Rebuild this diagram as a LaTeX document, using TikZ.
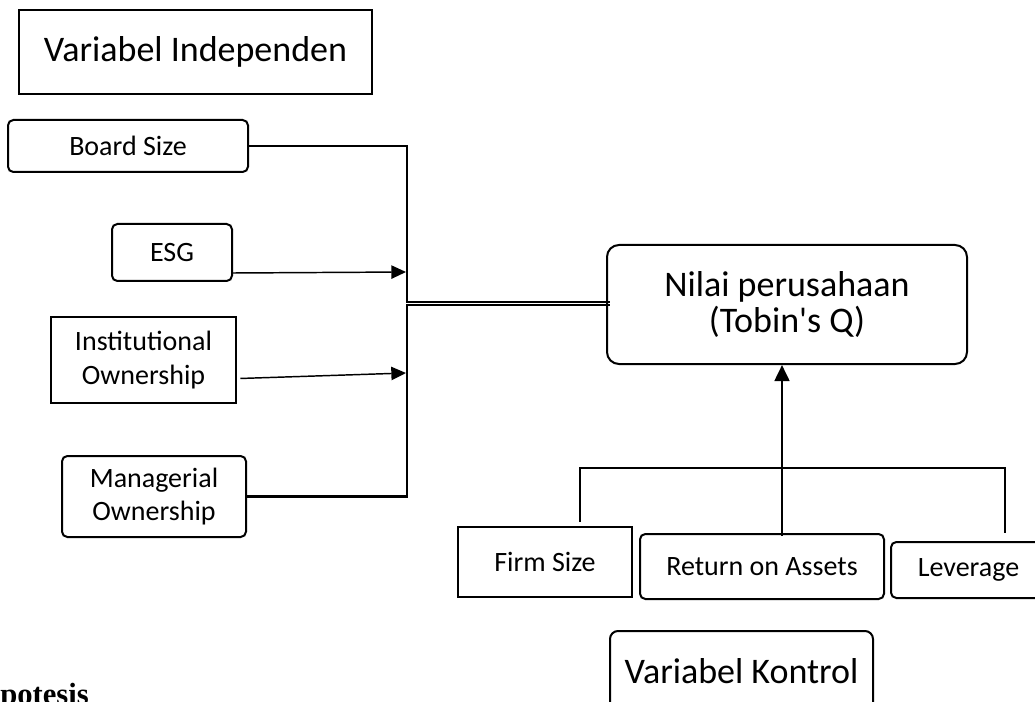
\documentclass[tikz,border=0pt]{standalone}
\usepackage{fontspec}
\setmainfont{Carlito}
\newfontfamily\hipfont{Liberation Serif}
\usetikzlibrary{arrows.meta,calc}

\begin{document}
\begin{tikzpicture}[x=0.75pt,y=-0.75pt,
    box/.style={draw,line width=1.5pt,rounded corners=4pt,inner sep=0pt,align=center,font=\fontsize{21}{25}\selectfont},
    sbox/.style={box,sharp corners,line width=2.2pt},
    bigbox/.style={box,font=\fontsize{27}{26.5}\selectfont},
    link/.style={line width=1.1pt},
    tip/.style={-{Triangle[length=11pt,width=10pt]}}]
    \useasboundingbox (0,0) rectangle (1035,702);
    \clip (0,0) rectangle (1035,702);

    % variabel independen
    \node[sbox,font=\fontsize{27}{30}\selectfont,minimum width=264.75pt,minimum height=63pt] (indep) at (195.5,52) {Variabel Independen};
    \node[box,minimum width=180pt,minimum height=39pt] (board) at (128,146) {Board Size};
    \node[box,minimum width=90pt,minimum height=42.75pt] (esg) at (172,252.5) {ESG};
    \node[sbox,minimum width=138.75pt,minimum height=64.5pt] (inst) at (143.5,360) {Institutional\\Ownership};
    \node[box,minimum width=138pt,minimum height=60.75pt] (mgr) at (154,496.5) {Managerial\\Ownership};

    % variabel dependen
    \node[bigbox,rounded corners=9pt,minimum width=270pt,minimum height=89.25pt] (nilai) at (787,304.5) {Nilai perusahaan\\(Tobin\textquotesingle s Q)};

    % variabel kontrol
    \node[sbox,minimum width=130.5pt,minimum height=52.5pt] (firm) at (545,562) {Firm Size};
    \node[box,minimum width=183pt,minimum height=48.75pt] (roa) at (762,566.5) {Return on Assets};
    \node[box,minimum width=116.25pt,minimum height=42pt] (lev) at (968.5,570) {Leverage};
    \node[bigbox,rounded corners=6pt,minimum width=197.25pt,minimum height=60pt] (kontrol) at (741.5,671) {Variabel Kontrol};

    \node[font=\hipfont\bfseries\fontsize{23}{23}\selectfont,anchor=base west,inner sep=0pt] (hip) at (0,704) {potesis};

    % garis
    \coordinate (vx1) at (407,302);
    \coordinate (vx2) at (407,305);
    \coordinate (esgin) at (406,272);
    \coordinate (instin) at (406,373);
    \coordinate (kt) at (782,468);
    \coordinate (kr) at (1005,468);

    \draw[link] (board.east) -| (vx1) -- ($(vx1 -| nilai.west)+(4,0)$);
    \draw[link,line width=1.6pt] (mgr.east) -| (vx2) -- ($(vx2 -| nilai.west)+(4,0)$);
    \draw[link,tip] ($(esg.south east)+(0,-9)$) -- (esgin);
    \draw[link,tip] ($(inst.south east)+(3,-26)$) -- (instin);

    \draw[line width=2pt,-{Triangle[length=12pt,width=11pt]}] (kt) -- (kt |- nilai.south);
    \draw[link] ($(firm.north)+(35,-4)$) |- (kr) -- ($(lev.north)+(36.5,-8)$);
    \draw[link] (kt) -- ($(roa.north)+(20,3)$);
\end{tikzpicture}
\end{document}
